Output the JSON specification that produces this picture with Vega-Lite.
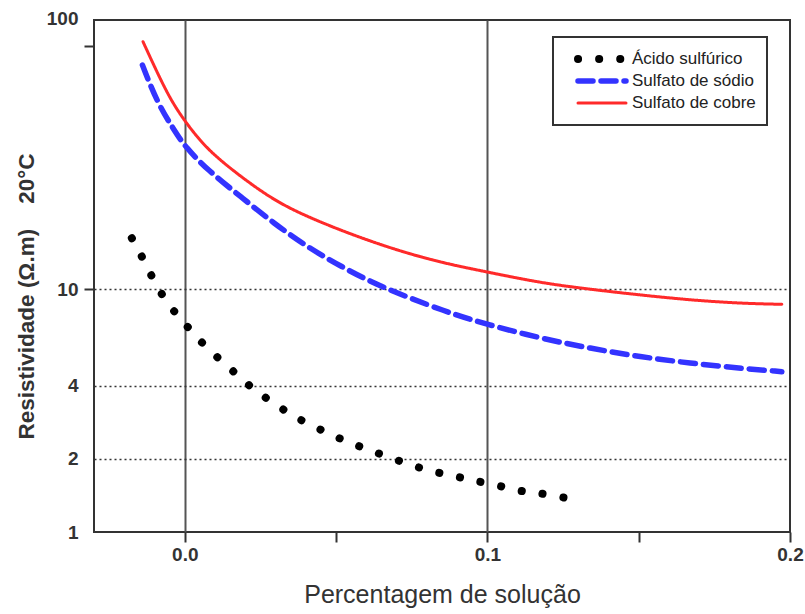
{
  "$schema": "https://vega.github.io/schema/vega-lite/v6.json",
  "width": 696,
  "height": 512,
  "autosize": "none",
  "padding": {"left": 94, "top": 20, "right": 15, "bottom": 82},
  "background": "white",
  "config": {
    "view": {"stroke": "#333333", "strokeWidth": 2},
    "font": "Liberation Sans"
  },
  "data": {
    "values": [
      {"s": "Ácido sulfúrico", "x": -0.0175, "y": 16.2},
      {"s": "Ácido sulfúrico", "x": -0.0149, "y": 14.2},
      {"s": "Ácido sulfúrico", "x": -0.0122, "y": 12.1},
      {"s": "Ácido sulfúrico", "x": -0.0073, "y": 9.27},
      {"s": "Ácido sulfúrico", "x": -0.0023, "y": 7.74},
      {"s": "Ácido sulfúrico", "x": 0.0013, "y": 6.91},
      {"s": "Ácido sulfúrico", "x": 0.0063, "y": 5.88},
      {"s": "Ácido sulfúrico", "x": 0.0125, "y": 5.01},
      {"s": "Ácido sulfúrico", "x": 0.0182, "y": 4.34},
      {"s": "Ácido sulfúrico", "x": 0.0234, "y": 3.8},
      {"s": "Ácido sulfúrico", "x": 0.0294, "y": 3.4},
      {"s": "Ácido sulfúrico", "x": 0.0356, "y": 3.0},
      {"s": "Ácido sulfúrico", "x": 0.0432, "y": 2.7},
      {"s": "Ácido sulfúrico", "x": 0.0505, "y": 2.44},
      {"s": "Ácido sulfúrico", "x": 0.0581, "y": 2.24},
      {"s": "Ácido sulfúrico", "x": 0.0657, "y": 2.07},
      {"s": "Ácido sulfúrico", "x": 0.0739, "y": 1.9},
      {"s": "Ácido sulfúrico", "x": 0.0812, "y": 1.78},
      {"s": "Ácido sulfúrico", "x": 0.0891, "y": 1.7},
      {"s": "Ácido sulfúrico", "x": 0.096, "y": 1.62},
      {"s": "Ácido sulfúrico", "x": 0.1033, "y": 1.56},
      {"s": "Ácido sulfúrico", "x": 0.1106, "y": 1.47},
      {"s": "Ácido sulfúrico", "x": 0.1172, "y": 1.45},
      {"s": "Ácido sulfúrico", "x": 0.1241, "y": 1.39},
      {"s": "Ácido sulfúrico", "x": 0.1317, "y": 1.35},
      {"s": "Sulfato de sódio", "x": -0.014, "y": 83.5},
      {"s": "Sulfato de sódio", "x": -0.009, "y": 58.1},
      {"s": "Sulfato de sódio", "x": -0.0035, "y": 45.1},
      {"s": "Sulfato de sódio", "x": 0.0001, "y": 38.5},
      {"s": "Sulfato de sódio", "x": 0.0075, "y": 30.9},
      {"s": "Sulfato de sódio", "x": 0.0185, "y": 24.0},
      {"s": "Sulfato de sódio", "x": 0.0295, "y": 18.6},
      {"s": "Sulfato de sódio", "x": 0.0405, "y": 14.9},
      {"s": "Sulfato de sódio", "x": 0.0515, "y": 12.4},
      {"s": "Sulfato de sódio", "x": 0.0647, "y": 10.2},
      {"s": "Sulfato de sódio", "x": 0.0867, "y": 8.02},
      {"s": "Sulfato de sódio", "x": 0.0993, "y": 7.18},
      {"s": "Sulfato de sódio", "x": 0.1175, "y": 6.27},
      {"s": "Sulfato de sódio", "x": 0.134, "y": 5.7},
      {"s": "Sulfato de sódio", "x": 0.1505, "y": 5.26},
      {"s": "Sulfato de sódio", "x": 0.167, "y": 4.95},
      {"s": "Sulfato de sódio", "x": 0.1835, "y": 4.72},
      {"s": "Sulfato de sódio", "x": 0.1973, "y": 4.57},
      {"s": "Sulfato de cobre", "x": -0.0138, "y": 104.2},
      {"s": "Sulfato de cobre", "x": -0.009, "y": 77.2},
      {"s": "Sulfato de cobre", "x": -0.0046, "y": 59.9},
      {"s": "Sulfato de cobre", "x": 0.0001, "y": 48.8},
      {"s": "Sulfato de cobre", "x": 0.0075, "y": 37.3},
      {"s": "Sulfato de cobre", "x": 0.0185, "y": 29.0},
      {"s": "Sulfato de cobre", "x": 0.0294, "y": 23.2},
      {"s": "Sulfato de cobre", "x": 0.0405, "y": 19.8},
      {"s": "Sulfato de cobre", "x": 0.057, "y": 16.4},
      {"s": "Sulfato de cobre", "x": 0.0735, "y": 14.0},
      {"s": "Sulfato de cobre", "x": 0.0878, "y": 12.6},
      {"s": "Sulfato de cobre", "x": 0.0993, "y": 11.8},
      {"s": "Sulfato de cobre", "x": 0.1175, "y": 10.6},
      {"s": "Sulfato de cobre", "x": 0.134, "y": 9.97},
      {"s": "Sulfato de cobre", "x": 0.1505, "y": 9.45},
      {"s": "Sulfato de cobre", "x": 0.167, "y": 9.01},
      {"s": "Sulfato de cobre", "x": 0.1835, "y": 8.73},
      {"s": "Sulfato de cobre", "x": 0.1973, "y": 8.65}
    ]
  },
  "mark": {"type": "line", "strokeCap": "round", "interpolate": "basis"},
  "encoding": {
    "x": {
      "field": "x",
      "type": "quantitative",
      "scale": {"domain": [-0.03, 0.2], "nice": false, "zero": false},
      "axis": {
        "title": "Percentagem de solução",
        "titleFont": "Liberation Sans",
        "titleFontSize": 25,
        "titleFontWeight": "normal",
        "titleColor": "#333333",
        "titlePadding": 18,
        "values": [0, 0.05, 0.1, 0.15, 0.2],
        "labelExpr": "(round(datum.value*100) % 10 == 0) ? format(datum.value, '.1f') : ''",
        "labelFont": "Liberation Sans",
        "labelFontSize": 19,
        "labelFontWeight": "bold",
        "labelColor": "#333333",
        "labelPadding": 3,
        "labelFlush": false,
        "domain": false,
        "tickColor": "#333333",
        "tickWidth": 2,
        "tickSize": 10,
        "grid": true,
        "gridColor": "#555555",
        "gridWidth": 2,
        "gridOpacity": {"condition": {"test": "datum.value == 0 || datum.value == 0.1", "value": 1}, "value": 0}
      }
    },
    "y": {
      "field": "y",
      "type": "quantitative",
      "scale": {"type": "log", "domain": [1, 128], "nice": false},
      "axis": {
        "title": "Resistividade (Ω.m)\u00a0\u00a0\u00a0\u00a020°C",
        "titleFont": "Liberation Sans",
        "titleFontSize": 22.5,
        "titleFontWeight": "bold",
        "titleColor": "#333333",
        "titleAngle": -90,
        "titleX": -68,
        "titleY": 276,
        "titleAlign": "center",
        "titleBaseline": "middle",
        "values": [1, 2, 4, 10, 100],
        "format": "d",
        "labelFont": "Liberation Sans",
        "labelFontSize": 19,
        "labelFontWeight": "bold",
        "labelColor": "#333333",
        "labelPadding": 6,
        "labelOffset": {"condition": {"test": "datum.value == 100", "value": -28}, "value": 0},
        "domain": false,
        "tickColor": "#333333",
        "tickWidth": 2,
        "tickSize": 10,
        "tickOpacity": {"condition": {"test": "datum.value == 100 || datum.value == 10", "value": 1}, "value": 0},
        "grid": true,
        "gridColor": "#333333",
        "gridWidth": 1.5,
        "gridDash": [2, 3],
        "gridOpacity": {"condition": {"test": "datum.value == 2 || datum.value == 4 || datum.value == 10", "value": 1}, "value": 0}
      }
    },
    "color": {
      "field": "s",
      "type": "nominal",
      "scale": {
        "domain": ["Ácido sulfúrico", "Sulfato de sódio", "Sulfato de cobre"],
        "range": ["#000000", "#3333ff", "#ff2a2a"]
      },
      "legend": {
        "title": null,
        "orient": "none",
        "legendX": 459,
        "legendY": 17,
        "symbolType": "stroke",
        "symbolSize": 2304,
        "clipHeight": 22,
        "labelFont": "Liberation Sans",
        "labelFontSize": 17,
        "labelColor": "#222222",
        "labelOffset": 2,
        "strokeColor": "#333333",
        "padding": 11,
        "rowPadding": 0,
        "symbolOffset": 10,
        "encode": {
          "legend": {"update": {"strokeWidth": {"value": 2}}},
          "symbols": {"update": {"strokeCap": {"value": "round"}}}
        }
      }
    },
    "strokeDash": {
      "field": "s",
      "type": "nominal",
      "scale": {
        "domain": ["Ácido sulfúrico", "Sulfato de sódio", "Sulfato de cobre"],
        "range": [[0.1, 21], [15, 8], [1, 0]]
      }
    },
    "strokeWidth": {
      "field": "s",
      "type": "nominal",
      "scale": {
        "domain": ["Ácido sulfúrico", "Sulfato de sódio", "Sulfato de cobre"],
        "range": [8, 3, 2.5]
      }
    }
  }
}
